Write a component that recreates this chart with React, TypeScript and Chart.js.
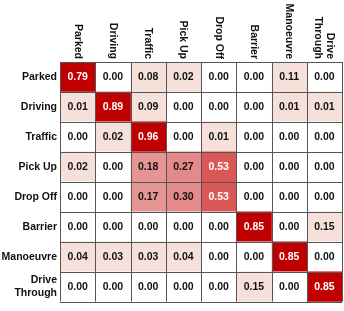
import React, { useEffect, useRef } from "react";
import { Chart, registerables } from "chart.js";

Chart.register(...registerables);

const rowLabels: (string | string[])[] = [
  "Parked", "Driving", "Traffic", "Pick Up", "Drop Off", "Barrier", "Manoeuvre", ["Drive", "Through"],
];
const colLabels: string[][] = [
  ["Parked"], ["Driving"], ["Traffic"], ["Pick Up"], ["Drop Off"], ["Barrier"], ["Manoeuvre"], ["Drive", "Through"],
];

const rowParked = [0.79, 0.0, 0.08, 0.02, 0.0, 0.0, 0.11, 0.0];
const rowDriving = [0.01, 0.89, 0.09, 0.0, 0.0, 0.0, 0.01, 0.01];
const rowTraffic = [0.0, 0.02, 0.96, 0.0, 0.01, 0.0, 0.0, 0.0];
const rowPickUp = [0.02, 0.0, 0.18, 0.27, 0.53, 0.0, 0.0, 0.0];
const rowDropOff = [0.0, 0.0, 0.17, 0.3, 0.53, 0.0, 0.0, 0.0];
const rowBarrier = [0.0, 0.0, 0.0, 0.0, 0.0, 0.85, 0.0, 0.15];
const rowManoeuvre = [0.04, 0.03, 0.03, 0.04, 0.0, 0.0, 0.85, 0.0];
const rowDriveThrough = [0.0, 0.0, 0.0, 0.0, 0.0, 0.15, 0.0, 0.85];

const matrix = [rowParked, rowDriving, rowTraffic, rowPickUp, rowDropOff, rowBarrier, rowManoeuvre, rowDriveThrough];

function cellColor(v: number): string {
  if (v === 0) return "#ffffff";
  if (v <= 0.15) return "#f5e1da";
  if (v < 0.25) return "#e69595";
  if (v < 0.4) return "#e48a8a";
  if (v < 0.7) return "#d95757";
  return "#c00000";
}

const FONT = "Arial, 'Liberation Sans', sans-serif";
const FS = 10.5;

const overlayPlugin = {
  id: "overlay",
  afterDatasetsDraw(chart: any) {
    const { ctx, chartArea, scales } = chart;
    const xs = scales.x;
    const ys = scales.y;
    const n = rowLabels.length;
    ctx.save();
    // values
    ctx.font = `bold ${FS}px ${FONT}`;
    ctx.textAlign = "center";
    ctx.textBaseline = "middle";
    for (let r = 0; r < n; r++) {
      for (let c = 0; c < colLabels.length; c++) {
        const v = matrix[r][c];
        const x = xs.getPixelForValue(c + 0.5);
        const y = ys.getPixelForValue(r);
        ctx.fillStyle = v > 0.5 ? "#ffffff" : "#111111";
        ctx.fillText(v.toFixed(2), x, y + 0.5);
      }
    }
    // grid lines
    ctx.strokeStyle = "#555555";
    ctx.lineWidth = 1;
    ctx.beginPath();
    for (let c = 0; c <= colLabels.length; c++) {
      const x = Math.round(xs.getPixelForValue(c)) + 0.5;
      ctx.moveTo(x, chartArea.top);
      ctx.lineTo(x, chartArea.bottom);
    }
    for (let r = 0; r <= n; r++) {
      const y = Math.round(ys.getPixelForValue(r - 0.5)) + 0.5;
      ctx.moveTo(chartArea.left, y);
      ctx.lineTo(chartArea.right, y);
    }
    ctx.stroke();
    // column labels, rotated clockwise
    ctx.fillStyle = "#111111";
    ctx.font = `bold ${FS}px ${FONT}`;
    ctx.textAlign = "right";
    ctx.textBaseline = "middle";
    for (let c = 0; c < colLabels.length; c++) {
      const lines = colLabels[c];
      const x = xs.getPixelForValue(c + 0.5);
      const lh = 12;
      for (let i = 0; i < lines.length; i++) {
        const off = (i - (lines.length - 1) / 2) * lh;
        ctx.save();
        ctx.translate(x - off, chartArea.top - 3);
        ctx.rotate(Math.PI / 2);
        ctx.fillText(lines[i], 0, 0);
        ctx.restore();
      }
    }
    ctx.restore();
  },
};

export default function App() {
  const ref = useRef<HTMLCanvasElement>(null);
  useEffect(() => {
    if (!ref.current) return;
    const datasets = colLabels.map((_, c) => ({
      label: colLabels[c].join(" "),
      data: matrix.map(() => 1),
      backgroundColor: matrix.map((row) => cellColor(row[c])),
      borderWidth: 0,
      barPercentage: 1,
      categoryPercentage: 1,
    }));
    const chart = new Chart(ref.current, {
      type: "bar",
      data: { labels: rowLabels as any, datasets },
      options: {
        indexAxis: "y",
        animation: false,
        responsive: false,
        layout: { padding: { top: 62, right: 2, bottom: 4, left: 0 } },
        plugins: { legend: { display: false }, tooltip: { enabled: false } },
        scales: {
          x: {
            type: "linear",
            stacked: true,
            min: 0,
            max: 8,
            display: false,
          },
          y: {
            type: "category",
            stacked: true,
            grid: { display: false, drawTicks: false },
            border: { display: false },
            afterFit: (s: any) => { s.width = 60; },
            ticks: {
              color: "#111111",
              padding: 3,
              font: { family: FONT, size: FS, weight: "bold", lineHeight: 1.2 },
            },
          },
        },
      },
      plugins: [overlayPlugin],
    });
    return () => chart.destroy();
  }, []);
  return (
    <div style={{ position: "fixed", left: 0, top: 0, width: 344, height: 311, background: "#fff" }}>
      <canvas ref={ref} width={344} height={311} style={{ width: 344, height: 311 }} />
    </div>
  );
}
